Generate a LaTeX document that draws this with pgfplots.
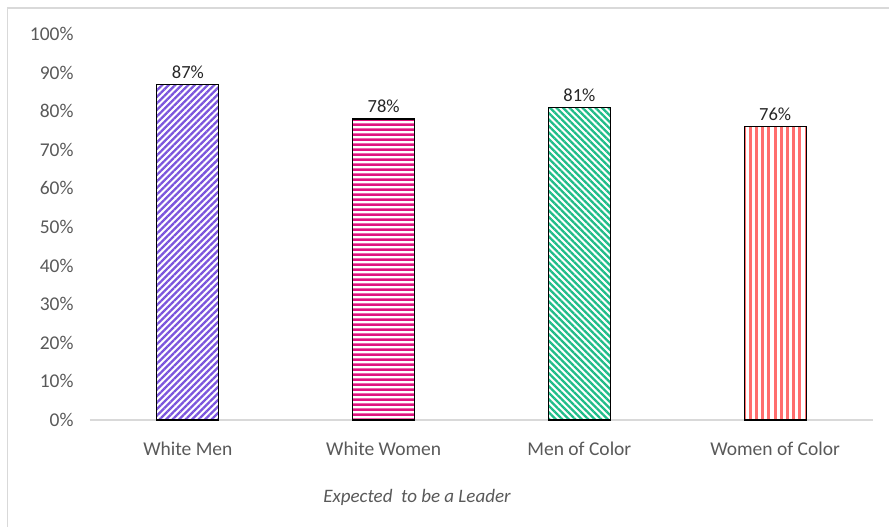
\documentclass[border=0pt]{standalone}
\usepackage{fontspec}
\setmainfont{Carlito}
\usepackage{pgfplots}
\pgfplotsset{compat=1.18}
\usetikzlibrary{patterns.meta}

\definecolor{txtgray}{HTML}{595959}
\definecolor{linegray}{HTML}{D9D9D9}
\definecolor{wmen}{HTML}{7B55DC}
\definecolor{wwomen}{HTML}{E0127F}
\definecolor{mcolor}{HTML}{1FBC88}
\definecolor{wcolor}{HTML}{FF6E6E}

\begin{document}
\begin{tikzpicture}
  % canvas in pixel-like units: axis box lower-left at image px (90,420)
  \path[use as bounding box] (-90pt,-107pt) rectangle (799pt,420pt);
  \draw[linegray, line width=1.2pt] (-82.5pt,-107pt) -- (-82.5pt,412pt) -- (799pt,412pt);
  \begin{axis}[
    at={(0,0)}, anchor=south west,
    scale only axis,
    width=783pt, height=386pt,
    xmin=-0.5, xmax=3.5,
    ymin=0, ymax=100,
    ybar, bar width=62pt, bar shift=0pt,
    axis x line=bottom,
    axis y line=left,
    x axis line style={-, draw=linegray, line width=1.2pt},
    y axis line style={draw=none},
    major tick length=0pt,
    xtick={0,1,2,3},
    xticklabels={White Men, White Women, Men of Color, Women of Color},
    ytick={0,10,...,100},
    yticklabel={\pgfmathprintnumber{\tick}\%},
    /pgf/number format/assume math mode=true,
    tick label style={font=\fontsize{19.5}{22}\selectfont, text=txtgray},
    yticklabel style={xshift=-13pt},
    xticklabel style={yshift=-18pt},
    xlabel={\itshape Expected\ \ to be a Leader},
    xlabel style={at={(axis description cs:0.4176,0)}, anchor=center,
      yshift=-77pt, font=\fontsize{19}{22}\selectfont, text=txtgray},
    nodes near coords={\pgfmathprintnumber{\pgfplotspointmeta}\%},
    nodes near coords style={font=\fontsize{18.5}{21}\selectfont, text=black!85, yshift=2pt},
    clip=false,
  ]
    \addplot[draw=black, line width=1.2pt,
      pattern={Lines[angle=45, distance=4.6pt, line width=2.3pt]}, pattern color=wmen]
      coordinates {(0,87)};
    \addplot[draw=black, line width=1.2pt,
      pattern={Lines[angle=0, distance=5.4pt, line width=2.8pt]}, pattern color=wwomen]
      coordinates {(1,78)};
    \addplot[draw=black, line width=1.2pt,
      pattern={Lines[angle=-45, distance=4.6pt, line width=2.3pt]}, pattern color=mcolor]
      coordinates {(2,81)};
    \addplot[draw=black, line width=1.2pt,
      pattern={Lines[angle=90, distance=6.2pt, line width=3pt]}, pattern color=wcolor]
      coordinates {(3,76)};
  \end{axis}
\end{tikzpicture}
\end{document}
